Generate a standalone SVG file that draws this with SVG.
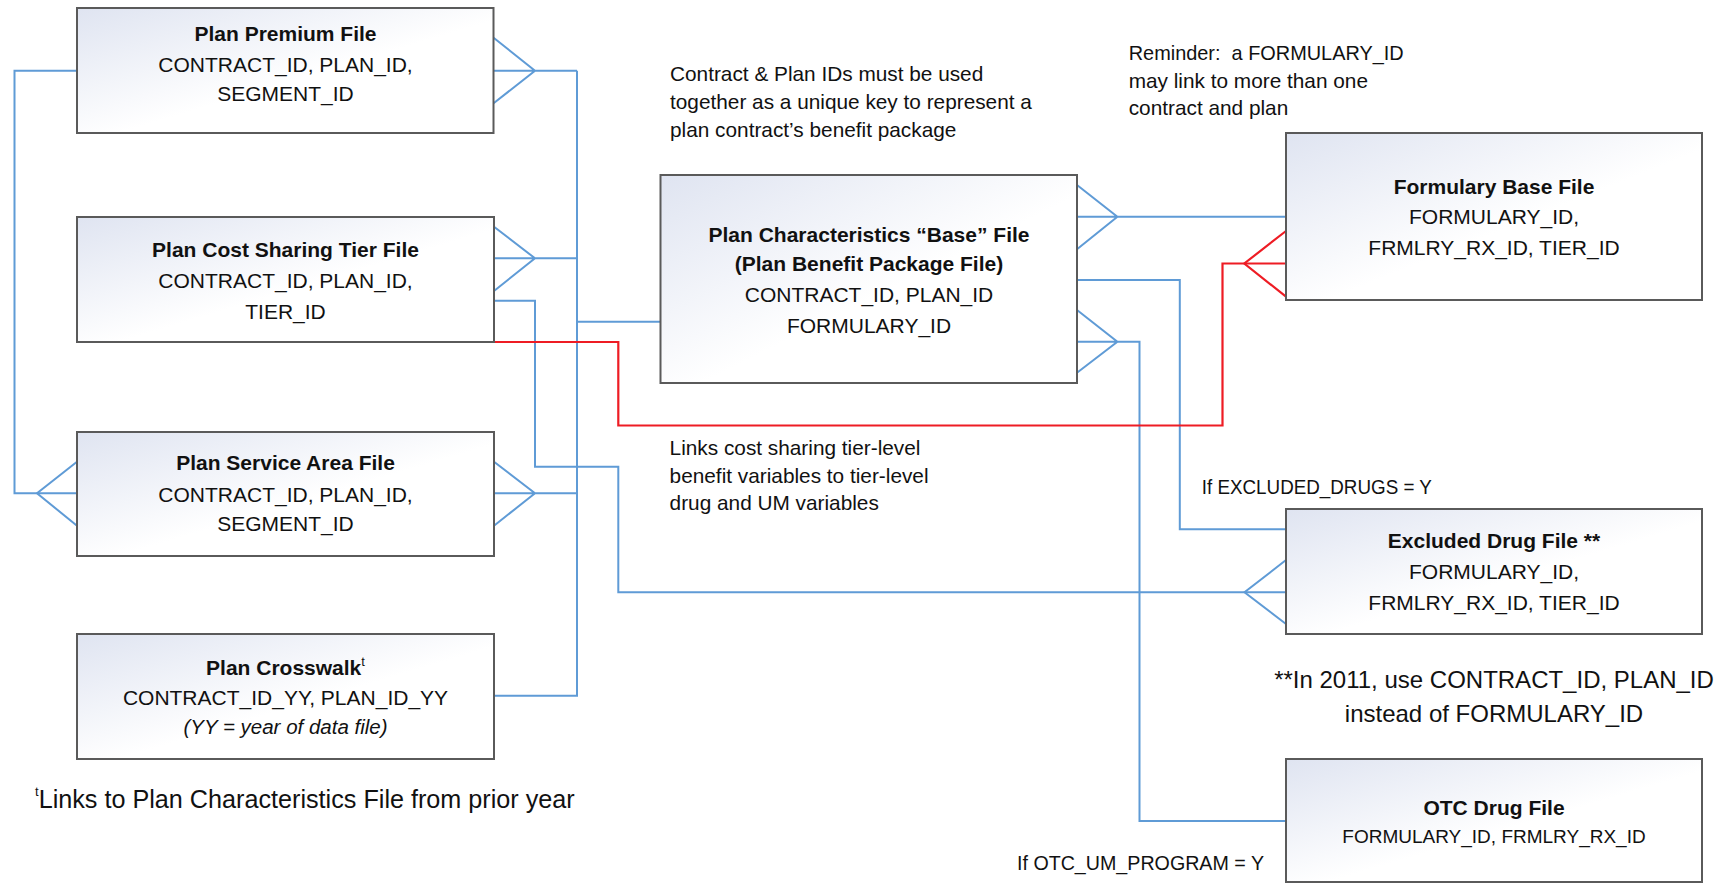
<svg xmlns="http://www.w3.org/2000/svg" width="1726" height="884" viewBox="0 0 1726 884">
<defs>
<linearGradient id="boxfill" x1="0" y1="0" x2="1" y2="1">
<stop offset="0" stop-color="#dfe4f1"/>
<stop offset="0.55" stop-color="#ffffff"/>
<stop offset="1" stop-color="#ffffff"/>
</linearGradient>
<style>
.box{fill:url(#boxfill);stroke:#5a5a5a;stroke-width:2}
.t{font-family:"Liberation Sans",Arial,sans-serif;font-size:21px;fill:#111;text-anchor:middle}
.b{font-weight:bold}
.a{font-family:"Liberation Sans",Arial,sans-serif;font-size:20.8px;fill:#111}
.big{font-family:"Liberation Sans",Arial,sans-serif;font-size:24px;fill:#111}
.blue{fill:none;stroke:#5f9bd6;stroke-width:2}
.red{fill:none;stroke:#ee1c24;stroke-width:2.2}
</style>
</defs>
<rect width="1726" height="884" fill="#ffffff"/>

<g id="connectors">
<path class="blue" d="M77,70.7 H14.5 V493.3 H77"/>
<path class="blue" d="M77,461.7 L37,493.3 L77,525.7"/>
<path class="blue" d="M493.6,37.7 L535,70.7 L493.6,103.3 M493.6,70.7 H577"/>
<path class="blue" d="M577,70.7 V695.7 H494"/>
<path class="blue" d="M494,226.7 L535,258.3 L494,291 M494,258.3 H577"/>
<path class="blue" d="M494,461.7 L535,493.3 L494,525.7 M494,493.3 H577"/>
<path class="blue" d="M577,321.7 H660.5"/>
<path class="blue" d="M494,300.7 H535 V466.7 H618.3 V592.3 H1286"/>
<path class="blue" d="M1286,560 L1244.5,592.3 L1286,624"/>
<path class="blue" d="M1077,185 L1117.4,216.7 L1077,249.3 M1077,216.7 H1286"/>
<path class="blue" d="M1077,280 H1179.8 V529.3 H1286"/>
<path class="blue" d="M1077,310 L1117.4,341.7 L1077,372.7 M1077,341.7 H1139.5 V821 H1286"/>
<path class="red" d="M494,342 H618.3 V425.5 H1222.5 V263.5 H1286"/>
<path class="red" d="M1286,231 L1244.3,263.5 L1286,296.7"/>
</g>

<g id="plan-premium">
<rect class="box" x="77" y="8" width="416.5" height="125"/>
<text class="t b" x="285.5" y="41">Plan Premium File</text>
<text class="t" x="285.5" y="72">CONTRACT_ID, PLAN_ID,</text>
<text class="t" x="285.5" y="101">SEGMENT_ID</text>
</g>

<g id="plan-cost-sharing">
<rect class="box" x="77" y="217" width="417" height="125"/>
<text class="t b" x="285.5" y="257">Plan Cost Sharing Tier File</text>
<text class="t" x="285.5" y="287.5">CONTRACT_ID, PLAN_ID,</text>
<text class="t" x="285.5" y="318.5">TIER_ID</text>
</g>

<g id="plan-service-area">
<rect class="box" x="77" y="432" width="417" height="124"/>
<text class="t b" x="285.5" y="470">Plan Service Area File</text>
<text class="t" x="285.5" y="502">CONTRACT_ID, PLAN_ID,</text>
<text class="t" x="285.5" y="531">SEGMENT_ID</text>
</g>

<g id="plan-crosswalk">
<rect class="box" x="77" y="634" width="417" height="125"/>
<text class="t b" x="285.5" y="675">Plan Crosswalk<tspan style="font-size:13px;font-weight:normal" dy="-9">t</tspan></text>
<text class="t" x="285.5" y="705">CONTRACT_ID_YY, PLAN_ID_YY</text>
<text class="t" x="285.5" y="733.5" style="font-style:italic;font-size:20.5px">(YY = year of data file)</text>
</g>

<g id="plan-characteristics">
<rect class="box" x="660.5" y="175" width="416.5" height="208"/>
<text class="t b" x="869" y="242">Plan Characteristics “Base” File</text>
<text class="t b" x="869" y="271">(Plan Benefit Package File)</text>
<text class="t" x="869" y="302">CONTRACT_ID, PLAN_ID</text>
<text class="t" x="869" y="333">FORMULARY_ID</text>
</g>

<g id="formulary-base">
<rect class="box" x="1286" y="133" width="416" height="167"/>
<text class="t b" x="1494" y="193.5">Formulary Base File</text>
<text class="t" x="1494" y="224">FORMULARY_ID,</text>
<text class="t" x="1494" y="255">FRMLRY_RX_ID, TIER_ID</text>
</g>

<g id="excluded-drug">
<rect class="box" x="1286" y="509" width="416" height="125"/>
<text class="t b" x="1494" y="547.5">Excluded Drug File **</text>
<text class="t" x="1494" y="578.5">FORMULARY_ID,</text>
<text class="t" x="1494" y="609.5">FRMLRY_RX_ID, TIER_ID</text>
</g>

<g id="otc-drug">
<rect class="box" x="1286" y="759" width="416" height="123"/>
<text class="t b" x="1494" y="815">OTC Drug File</text>
<text class="t" x="1494" y="843" style="font-size:19px">FORMULARY_ID, FRMLRY_RX_ID</text>
</g>

<g id="annotations">
<text class="a" x="670" y="81">Contract &amp; Plan IDs must be used</text>
<text class="a" x="670" y="109">together as a unique key to represent a</text>
<text class="a" x="670" y="137">plan contract’s benefit package</text>
<text class="a" x="1128.7" y="59.5" xml:space="preserve" textLength="275" lengthAdjust="spacingAndGlyphs">Reminder:  a FORMULARY_ID</text>
<text class="a" x="1128.7" y="87.5">may link to more than one</text>
<text class="a" x="1128.7" y="115">contract and plan</text>
<text class="a" x="669.6" y="454.6">Links cost sharing tier-level</text>
<text class="a" x="669.6" y="482.5">benefit variables to tier-level</text>
<text class="a" x="669.6" y="510.4">drug and UM variables</text>
<text class="a" x="1201.8" y="494" textLength="230" lengthAdjust="spacingAndGlyphs">If EXCLUDED_DRUGS = Y</text>
<text class="big" x="1494" y="688.3" text-anchor="middle">**In 2011, use CONTRACT_ID, PLAN_ID</text>
<text class="big" x="1494" y="721.7" text-anchor="middle">instead of FORMULARY_ID</text>
<text class="a" x="1017" y="870" textLength="247" lengthAdjust="spacingAndGlyphs">If OTC_UM_PROGRAM = Y</text>
<text class="big" x="35" y="808.3" style="font-size:25.2px"><tspan style="font-size:13px" dy="-12">t</tspan><tspan dy="12">Links to Plan Characteristics File from prior year</tspan></text>
</g>
</svg>
